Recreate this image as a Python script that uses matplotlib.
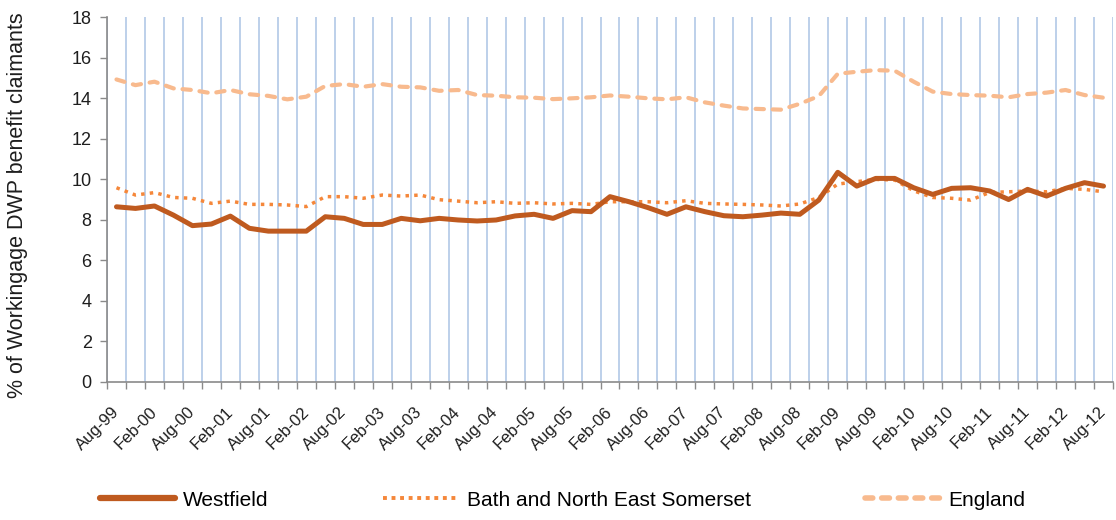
import numpy as np
import matplotlib
matplotlib.use("Agg")
import matplotlib.pyplot as plt
from matplotlib.lines import Line2D

# ---- data (quarterly, Aug-99 .. Aug-12) ----
quarters = ["Aug-99", "Nov-99", "Feb-00", "May-00", "Aug-00", "Nov-00", "Feb-01", "May-01",
            "Aug-01", "Nov-01", "Feb-02", "May-02", "Aug-02", "Nov-02", "Feb-03", "May-03",
            "Aug-03", "Nov-03", "Feb-04", "May-04", "Aug-04", "Nov-04", "Feb-05", "May-05",
            "Aug-05", "Nov-05", "Feb-06", "May-06", "Aug-06", "Nov-06", "Feb-07", "May-07",
            "Aug-07", "Nov-07", "Feb-08", "May-08", "Aug-08", "Nov-08", "Feb-09", "May-09",
            "Aug-09", "Nov-09", "Feb-10", "May-10", "Aug-10", "Nov-10", "Feb-11", "May-11",
            "Aug-11", "Nov-11", "Feb-12", "May-12", "Aug-12"]

westfield = [8.64, 8.56, 8.68, 8.23, 7.71, 7.79, 8.18, 7.58,
             7.44, 7.44, 7.44, 8.15, 8.07, 7.77, 7.77, 8.07,
             7.95, 8.07, 7.99, 7.94, 7.99, 8.19, 8.27, 8.07,
             8.45, 8.40, 9.14, 8.89, 8.60, 8.27, 8.64, 8.40,
             8.20, 8.15, 8.23, 8.33, 8.27, 8.97, 10.34, 9.66,
             10.04, 10.04, 9.58, 9.25, 9.55, 9.58, 9.42, 9.00,
             9.50, 9.17, 9.55, 9.83, 9.66]

banes = [9.58, 9.22, 9.34, 9.10, 9.06, 8.81, 8.92, 8.76,
         8.76, 8.73, 8.65, 9.14, 9.14, 9.06, 9.22, 9.17,
         9.22, 8.99, 8.92, 8.84, 8.89, 8.81, 8.84, 8.78,
         8.81, 8.76, 8.89, 8.89, 8.89, 8.84, 8.94, 8.81,
         8.78, 8.76, 8.73, 8.68, 8.78, 9.10, 9.76, 9.88,
         9.99, 9.96, 9.43, 9.10, 9.06, 8.97, 9.35, 9.38,
         9.42, 9.38, 9.55, 9.50, 9.38]

england = [14.92, 14.64, 14.81, 14.48, 14.40, 14.24, 14.40, 14.19,
           14.11, 13.94, 14.07, 14.60, 14.69, 14.56, 14.69, 14.56,
           14.53, 14.36, 14.40, 14.15, 14.12, 14.04, 14.02, 13.95,
           13.99, 14.04, 14.13, 14.07, 13.99, 13.94, 14.04, 13.79,
           13.63, 13.49, 13.46, 13.43, 13.72, 14.10, 15.20, 15.30,
           15.38, 15.35, 14.81, 14.32, 14.20, 14.15, 14.12, 14.04,
           14.20, 14.27, 14.40, 14.15, 14.02]

series_names = ["Westfield", "Bath and North East Somerset", "England"]
y_ticks = list(range(0, 19, 2))
y_label = "% of Workingage DWP benefit claimants"

# ---- style ----
plt.rcParams['font.family'] = ['Liberation Sans', 'DejaVu Sans']
C_W = "#BF5A1F"
C_B = "#F5873A"
C_E = "#F8BA8E"
GRID = "#B8CDE8"
AXC = "#8A8A8A"
TXT = "#1E1E1E"

fig = plt.figure(figsize=(11.16, 5.2), dpi=100)
ax = fig.add_axes([107/1116, 138/520, 1006/1116, 365/520])

x = np.arange(len(quarters))

ax.plot(x, england, color=C_E, lw=3.0, linestyle=(0, (2.0, 2.1)),
        dash_capstyle='round', solid_capstyle='round', zorder=3)
ax.plot(x, banes, color=C_B, lw=2.5, linestyle=(0, (1.0, 1.5)),
        dash_capstyle='butt', zorder=4)
ax.plot(x, westfield, color=C_W, lw=3.6, solid_capstyle='round',
        solid_joinstyle='round', zorder=5)

ax.set_xlim(-0.5, len(quarters) - 0.5)
ax.set_ylim(0, 18)
ax.set_yticks(y_ticks)
ax.set_yticklabels([str(v) for v in y_ticks], fontsize=13, color=TXT)

# category boundaries: minor ticks + vertical gridlines
bounds = np.arange(-0.5, len(quarters), 1.0)
ax.set_xticks(bounds, minor=True)
ax.set_xticks(x[::2])
ax.set_xticklabels(quarters[::2], rotation=45, ha='right', va='center',
                   rotation_mode='anchor', fontsize=12, color=TXT)
ax.tick_params(axis='x', which='major', length=0, pad=20)
ax.tick_params(axis='x', which='minor', length=5, width=1, color=AXC, direction='out')
ax.tick_params(axis='y', which='major', length=5, width=1, color=AXC, direction='out', pad=6)
ax.grid(True, which='minor', axis='x', color=GRID, lw=1.3)
ax.grid(False, which='major')
ax.set_axisbelow(True)

for s in ['top', 'right']:
    ax.spines[s].set_visible(False)
for s in ['left', 'bottom']:
    ax.spines[s].set_color(AXC)
    ax.spines[s].set_linewidth(1.2)

fig.text(18/1116, 1 - 205/520, y_label, rotation=90, ha='center', va='center',
         fontsize=15.5, color=TXT)

handles = [
    Line2D([], [], color=C_W, lw=4.5, solid_capstyle='round'),
    Line2D([], [], color=C_B, lw=2.8, linestyle=(0, (1.0, 1.2))),
    Line2D([], [], color=C_E, lw=4.0, linestyle=(0, (1.4, 1.6)), dash_capstyle='round'),
]
fig.legend(handles, series_names, loc='center left', bbox_to_anchor=(100/1116, 20/520),
           ncol=3, frameon=False, borderpad=0, borderaxespad=0, fontsize=15,
           handlelength=3.6, handletextpad=0.4, columnspacing=5.5)

fig.savefig("out.png", dpi=100)
